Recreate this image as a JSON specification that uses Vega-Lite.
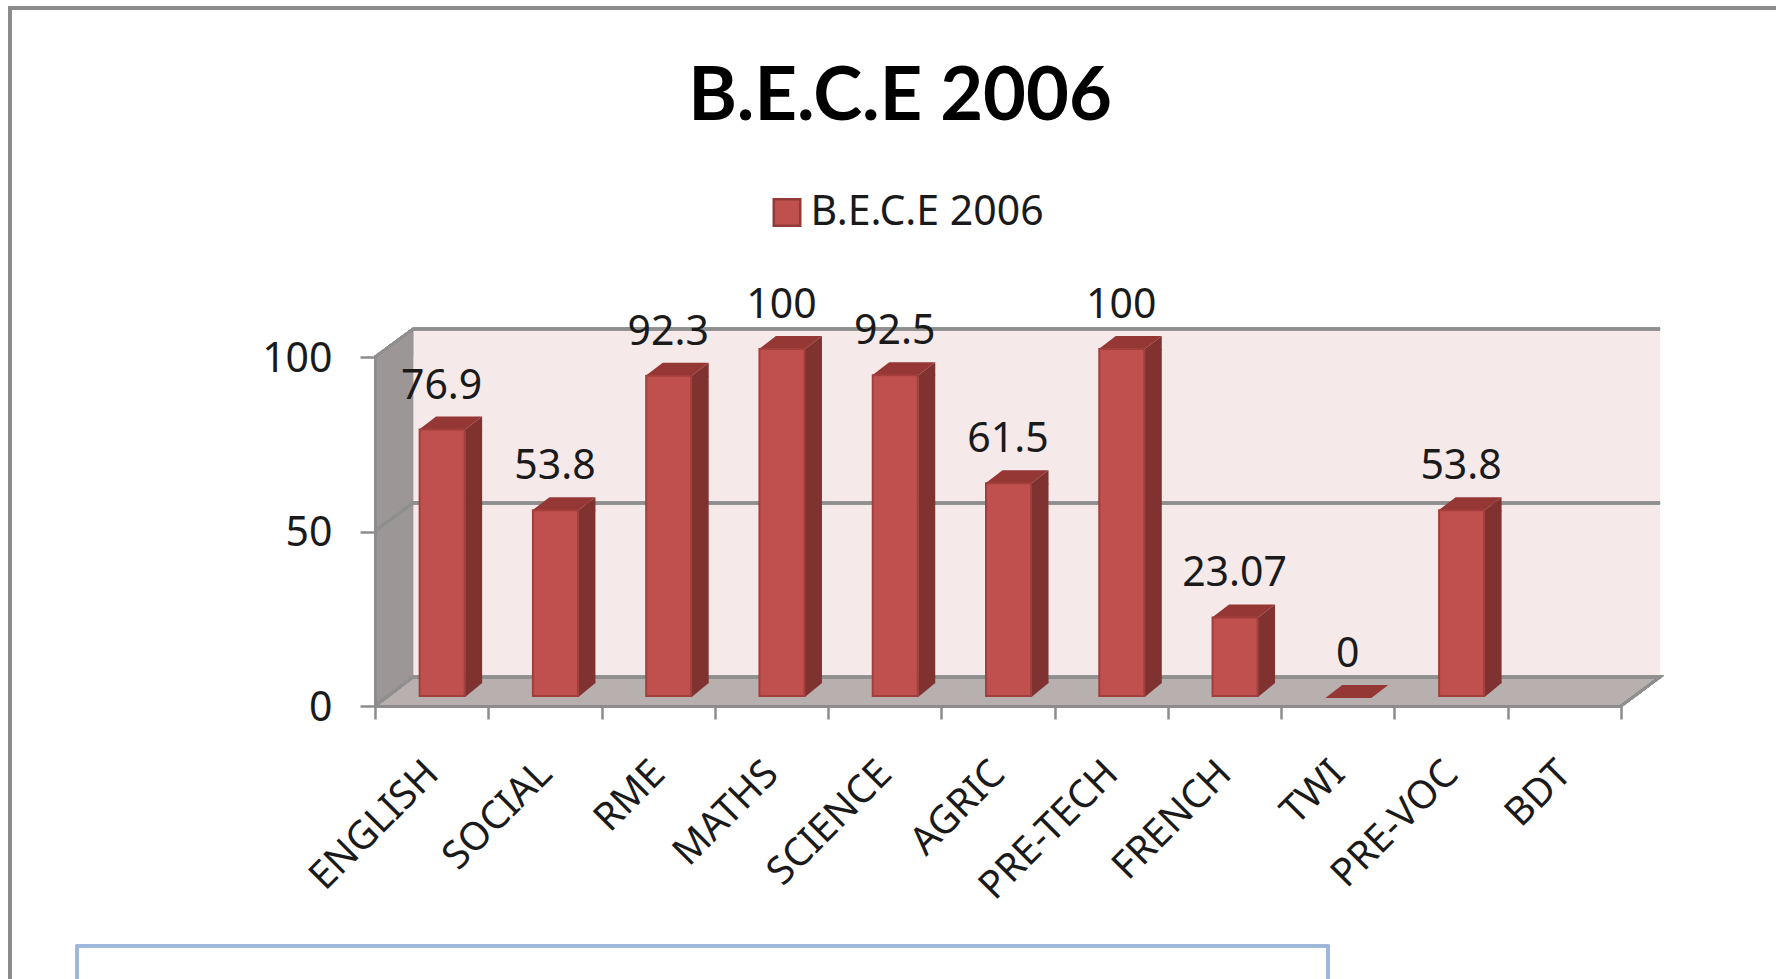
{
"$schema":"https://vega.github.io/schema/vega-lite/v6.json",
"width":1246,"height":349,
"autosize":{"type":"none"},
"padding":{"left":375,"top":357,"right":155,"bottom":273},
"background":"#ffffff",
"title":{"text":"B.E.C.E 2006","font":"Lato","fontWeight":"bold","fontSize":74,"color":"#000000","anchor":"middle","dx":-98,"offset":-192,"baseline":"alphabetic"},
"config":{"view":{"stroke":null}},
"data":{"values":[
{"subject":"ENGLISH","score":76.9,"series":"B.E.C.E 2006"},
{"subject":"SOCIAL","score":53.8,"series":"B.E.C.E 2006"},
{"subject":"RME","score":92.3,"series":"B.E.C.E 2006"},
{"subject":"MATHS","score":100,"series":"B.E.C.E 2006"},
{"subject":"SCIENCE","score":92.5,"series":"B.E.C.E 2006"},
{"subject":"AGRIC","score":61.5,"series":"B.E.C.E 2006"},
{"subject":"PRE-TECH","score":100,"series":"B.E.C.E 2006"},
{"subject":"FRENCH","score":23.07,"series":"B.E.C.E 2006"},
{"subject":"TWI","score":0,"series":"B.E.C.E 2006"},
{"subject":"PRE-VOC","score":53.8,"series":"B.E.C.E 2006"},
{"subject":"BDT","score":null,"series":"B.E.C.E 2006"}
]},
"encoding":{
"x":{"field":"subject","type":"nominal","sort":null,"title":null,
"scale":{"domain":["ENGLISH","SOCIAL","RME","MATHS","SCIENCE","AGRIC","PRE-TECH","FRENCH","TWI","PRE-VOC","BDT"],"paddingInner":0,"paddingOuter":0},
"axis":{"zindex":1,"tickBand":"extent","labelAngle":-45,"labelAlign":"right","labelBaseline":"middle","labelFont":"Noto Sans","labelFontSize":39,"labelColor":"#1a1a1a","labelPadding":48,"labelLimit":400,"tickSize":13,"tickWidth":2.5,"tickColor":"#8c8c8c","domainColor":"#8c8c8c","domainWidth":3,"grid":false,"labelOverlap":false,"labelBound":false,"labelFlush":false}},
"y":{"field":"score","type":"quantitative","title":null,
"scale":{"domain":[0,100],"nice":false},
"axis":{"zindex":1,"values":[0,50,100],"tickSize":15,"tickWidth":2.5,"tickColor":"#8c8c8c","domainColor":"#8c8c8c","domainWidth":3,"grid":false,"labelFont":"Noto Sans","labelFontSize":41,"labelColor":"#1a1a1a","labelPadding":28,"labelOffset":2}}
},
"layer":[
{"mark":{"type":"point","filled":false,"opacity":1,"size":4,"clip":false,"xOffset":-56.6,"stroke":"#8c8c8c","strokeWidth":3,"shape":"M-365,280 V-698 H1420"},
 "encoding":{"x":{"datum":"ENGLISH"},"y":{"datum":0}}},
{"mark":{"type":"point","filled":false,"opacity":1,"size":4,"clip":false,"xOffset":-56.6,"stroke":"#9cb6dc","strokeWidth":2.5,"shape":"M-298,280 V240 H953 V280"},
 "encoding":{"x":{"datum":"ENGLISH"},"y":{"datum":0}}},
{"mark":{"type":"point","filled":true,"opacity":1,"size":4,"clip":false,"xOffset":-56.6,"fill":"#f5e9e9","stroke":null,"shape":"M38,-29 H1285 V-377 H38 Z"},
 "encoding":{"x":{"datum":"ENGLISH"},"y":{"datum":0}}},
{"mark":{"type":"point","filled":true,"opacity":1,"size":4,"clip":false,"xOffset":-56.6,"fill":"#9d9696","stroke":null,"shape":"M0,0 L38,-29 V-377 L0,-349 Z"},
 "encoding":{"x":{"datum":"ENGLISH"},"y":{"datum":0}}},
{"mark":{"type":"point","filled":true,"opacity":1,"size":4,"clip":false,"xOffset":-56.6,"fill":"#b8afaf","stroke":null,"shape":"M0,0 H1246 L1285,-29 H38 Z"},
 "encoding":{"x":{"datum":"ENGLISH"},"y":{"datum":0}}},
{"mark":{"type":"point","filled":false,"opacity":1,"size":4,"clip":false,"xOffset":-56.6,"stroke":"#8f8f8f","strokeWidth":2.5,"shape":"M0,-349 L38,-377 H1285 M0,-175 L38,-203 H1285 M0,0 L38,-29 H1285 L1246,0"},
 "encoding":{"x":{"datum":"ENGLISH"},"y":{"datum":0}}},
{"transform":[{"filter":"datum.score > 0"}],
 "mark":{"type":"bar","width":17,"xOffset":42,"yOffset":-8,"y2Offset":-23,"fill":"#7f3230"},
 "encoding":{"y2":{"datum":0}}},
{"transform":[{"filter":"datum.score > 0"}],
 "mark":{"type":"point","filled":true,"opacity":1,"size":4,"xOffset":10.5,"yOffset":-8,"fill":"#7f3230","stroke":null,"shape":"M23,0 L40,-13 V1 H23 Z"}},
{"transform":[{"filter":"datum.score > 0"}],
 "mark":{"type":"point","filled":true,"opacity":1,"size":4,"xOffset":10.5,"yOffset":-10,"fill":"#7f3230","stroke":null,"shape":"M23,1 L40,-13 V-14 H23 Z"},
 "encoding":{"y":{"datum":0}}},
{"transform":[{"filter":"isValid(datum.score)"}],
 "mark":{"type":"point","filled":true,"opacity":1,"size":4,"xOffset":10.5,"yOffset":-9,"fill":"#953735","stroke":null,"shape":"M-23,1 L23,1 L40,-12 L-6,-12 Z"}},
{"transform":[{"filter":"datum.score > 0"}],
 "mark":{"type":"bar","width":45,"xOffset":10.5,"yOffset":-8,"y2Offset":-10,"stroke":"#a23f3c","strokeWidth":2},
 "encoding":{"y2":{"datum":0},
 "color":{"field":"series","type":"nominal","title":null,"scale":{"domain":["B.E.C.E 2006"],"range":["#c0504d"]},
  "legend":{"orient":"none","legendX":391.5,"legendY":-165,"title":null,"symbolType":"square","symbolSize":700,"symbolStrokeColor":"#913a37","symbolStrokeWidth":2.5,"labelFont":"Noto Sans","labelFontSize":41,"labelColor":"#1a1a1a","labelOffset":3,"labelLimit":400,"padding":0}}}},
{"transform":[{"filter":"isValid(datum.score)"}],
 "mark":{"type":"text","font":"Noto Sans","fontSize":41,"color":"#1a1a1a","align":"center","baseline":"alphabetic","xOffset":10,"yOffset":-39},
 "encoding":{"text":{"field":"score","type":"quantitative"}}}
]
}
